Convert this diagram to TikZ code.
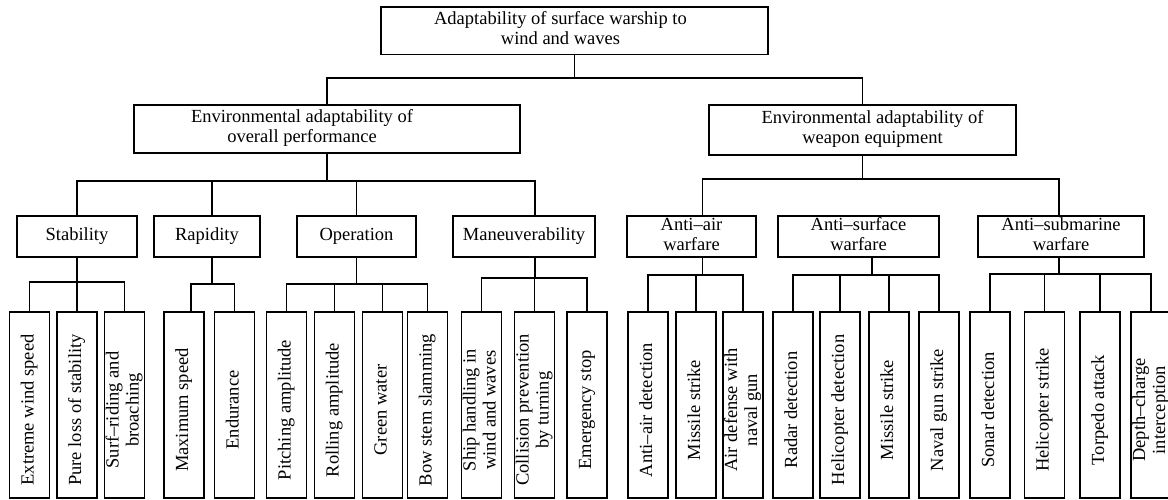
\documentclass[tikz,border=0pt]{standalone}
\usepackage{fontspec}
\setmainfont{Liberation Serif}
\newcommand\tb[2]{{\kern#1\relax\begin{tabular}{@{}c@{}}#2\end{tabular}}}
\newcommand\lf[1]{{\kern-10pt\relax\begin{tabular}{@{}c@{}}#1\end{tabular}}}
\begin{document}
\begin{tikzpicture}[x=1pt,y=-1pt,
  font=\fontsize{18.5}{20}\selectfont,
  box/.style={draw, line width=1.4pt, inner sep=0pt, outer sep=0pt},
  midbox/.style={box, minimum height=41pt},
  conn/.style={line width=1.4pt},
  leaf/.style={box, rotate=90, minimum width=186pt, minimum height=40pt}]
\useasboundingbox (0,0) rectangle (1168,500);
\clip (0,0) rectangle (1168,500);

% ---- level 0 and 1
\node[box, minimum width=387pt, minimum height=47.5pt] (root) at (574.5,30.75)
  {\tb{-28pt}{Adaptability of surface warship to\\wind and waves}};
\node[box, minimum width=386pt, minimum height=48pt] (lm) at (327,129)
  {\tb{-50pt}{Environmental adaptability of\\overall performance}};
\node[box, minimum width=307pt, minimum height=50pt] (rm) at (862.5,130)
  {\tb{20pt}{Environmental adaptability of\\weapon equipment}};

% ---- level 2
\node[midbox, minimum width=120pt] (stab) at (77,236.5) {\raisebox{-4pt}{Stability}};
\node[midbox, minimum width=106pt] (rap) at (207,236.5) {Rapidity};
\node[midbox, minimum width=119pt] (oper) at (356.5,236.5) {Operation};
\node[midbox, minimum width=142pt] (man) at (524,236.5) {Maneuverability};
\node[midbox, minimum width=129pt] (aa) at (691.5,236.5) {\tb{0pt}{Anti--air\\warfare}};
\node[midbox, minimum width=161pt] (asf) at (858.5,236.5) {\tb{0pt}{Anti--surface\\warfare}};
\node[midbox, minimum width=166pt] (asb) at (1061,236.5) {\tb{0pt}{Anti--submarine\\warfare}};

% ---- leaves
\node[leaf] (s1) at (29.5,405) {\lf{Extreme wind speed}};
\node[leaf] (s2) at (77,405) {\lf{Pure loss of stability}};
\node[leaf] (s3) at (124.5,405) {\lf{Surf--riding and\\broaching}};
\node[leaf] (r1) at (184,405) {\lf{Maximum speed}};
\node[leaf] (r2) at (234.5,405) {\lf{Endurance}};
\node[leaf] (o1) at (286.5,405) {\lf{Pitching amplitude}};
\node[leaf] (o2) at (334.5,405) {\lf{Rolling amplitude}};
\node[leaf] (o3) at (382.5,405) {\lf{Green water}};
\node[leaf] (o4) at (427.5,405) {\lf{Bow stem slamming}};
\node[leaf] (m1) at (481.5,405) {\lf{Ship handling in\\wind and waves}};
\node[leaf] (m2) at (534.5,405) {\lf{Collision prevention\\by turning}};
\node[leaf] (m3) at (587,405) {\lf{Emergency stop}};
\node[leaf] (a1) at (648,405) {\lf{Anti--air detection}};
\node[leaf] (a2) at (696,405) {\lf{Missile strike}};
\node[leaf] (a3) at (743,405) {\lf{Air defense with\\naval gun}};
\node[leaf] (f1) at (793,405) {\lf{Radar detection}};
\node[leaf] (f2) at (840,405) {\lf{Helicopter detection}};
\node[leaf] (f3) at (889,405) {\lf{Missile strike}};
\node[leaf] (f4) at (939,405) {\lf{Naval gun strike}};
\node[leaf] (u1) at (990,405) {\lf{Sonar detection}};
\node[leaf] (u2) at (1044.5,405) {\lf{Helicopter strike}};
\node[leaf] (u3) at (1100,405) {\lf{Torpedo attack}};
\node[leaf] (u4) at (1151,405) {\raisebox{-3pt}{\lf{Depth--charge\\interception}}};

% ---- connector anchor points
\coordinate (rootbus) at (root.south |- 0,78);
\coordinate (lmbus) at (lm.south |- 0,181);
\coordinate (rmbus) at (rm.south |- 0,179);
\coordinate (rapt) at ([xshift=5pt]rap.north);
\coordinate (rapb) at ([xshift=5pt]rap.south);
\coordinate (mant) at ([xshift=11pt]man.north);
\coordinate (manb) at ([xshift=11pt]man.south);
\coordinate (aat) at ([xshift=11pt]aa.north);
\coordinate (aab) at ([xshift=11pt]aa.south);
\coordinate (asfb) at ([xshift=13.5pt]asf.south);
\coordinate (asbt) at ([xshift=-2pt]asb.north);
\coordinate (asbb) at ([xshift=-2pt]asb.south);
\coordinate (stabbus) at (stab.south |- 0,282);
\coordinate (rapbus) at (rapb |- 0,284);
\coordinate (operbus) at (oper.south |- 0,284);
\coordinate (manbus) at (manb |- 0,278);
\coordinate (aabus) at (aab |- 0,275);
\coordinate (asfbus) at (asfb |- 0,275);
\coordinate (asbbus) at (asbb |- 0,274);
\coordinate (r1t) at ([xshift=7pt]r1.east);

% ---- level 0 -> 1
\draw[conn] (lm.north) |- (rootbus) -- (root.south);
\draw[conn] (rm.north) |- (rootbus);
% ---- level 1 -> 2
\draw[conn] (stab.north) |- (lmbus) -- (lm.south);
\draw[conn] (rapt) |- (lmbus);
\draw[conn] (oper.north) |- (lmbus);
\draw[conn] (mant) |- (lmbus);
\draw[conn] (aat) |- (rmbus) -- (rm.south);
\draw[conn] (asbt) |- (rmbus);
% ---- level 2 -> leaves
\draw[conn] (s1.east) |- (stabbus) -- (stab.south);
\draw[conn] (s2.east) |- (stabbus);
\draw[conn] (s3.east) |- (stabbus);
\draw[conn] (r1t) |- (rapbus) -- (rapb);
\draw[conn] (r2.east) |- (rapbus);
\draw[conn] (o1.east) |- (operbus) -- (oper.south);
\draw[conn] (o2.east) |- (operbus);
\draw[conn] (o3.east) |- (operbus);
\draw[conn] (o4.east) |- (operbus);
\draw[conn] (m1.east) |- (manbus) -- (manb);
\draw[conn] (m2.east) |- (manbus);
\draw[conn] (m3.east) |- (manbus);
\draw[conn] (a1.east) |- (aabus) -- (aab);
\draw[conn] (a2.east) |- (aabus);
\draw[conn] (a3.east) |- (aabus);
\draw[conn] (f1.east) |- (asfbus) -- (asfb);
\draw[conn] (f2.east) |- (asfbus);
\draw[conn] (f3.east) |- (asfbus);
\draw[conn] (f4.east) |- (asfbus);
\draw[conn] (u1.east) |- (asbbus) -- (asbb);
\draw[conn] (u2.east) |- (asbbus);
\draw[conn] (u3.east) |- (asbbus);
\draw[conn] (u4.east) |- (asbbus);
\end{tikzpicture}
\end{document}
